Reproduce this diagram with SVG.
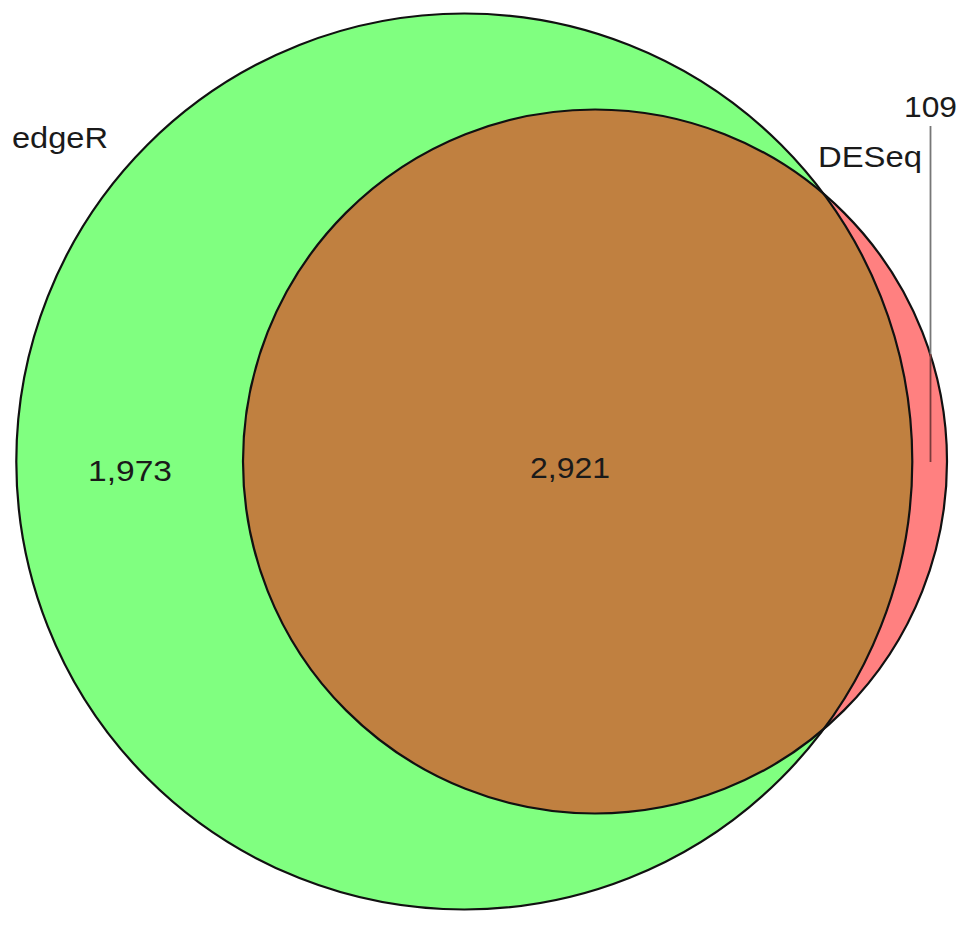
<svg xmlns="http://www.w3.org/2000/svg" width="969" height="925" viewBox="0 0 969 925">
<style>
.lbl{font-family:"Liberation Sans",Arial,Helvetica,sans-serif;font-size:30px;fill:#1a1a1a}
.edge{fill:none;stroke:#111;stroke-width:2.2}
</style>
<defs>
<clipPath id="clipGreen"><circle cx="464.3" cy="461.5" r="448"/></clipPath>
</defs>
<rect width="969" height="925" fill="#ffffff"/>
<g id="edgeR">
<circle cx="464.3" cy="461.5" r="448" fill="#80ff80"/>
</g>
<g id="DESeq">
<circle cx="595" cy="461.5" r="352" fill="#ff8080"/>
</g>
<g id="overlap">
<circle cx="595" cy="461.5" r="352" fill="#c08040" clip-path="url(#clipGreen)"/>
</g>
<g id="outlines">
<circle class="edge" cx="464.3" cy="461.5" r="448"/>
<circle class="edge" cx="595" cy="461.5" r="352"/>
</g>
<g id="connectors">
<line x1="930.5" y1="126" x2="930.5" y2="354" stroke="#777" stroke-width="1.8"/>
<line x1="930.5" y1="354" x2="930.5" y2="462" stroke="#7a3a3a" stroke-width="1.8"/>
</g>
<g id="labels">
<text class="lbl" x="12" y="148" textLength="96" lengthAdjust="spacingAndGlyphs">edgeR</text>
<text class="lbl" x="818" y="167" textLength="104" lengthAdjust="spacingAndGlyphs">DESeq</text>
<text class="lbl" x="904" y="117" textLength="53" lengthAdjust="spacingAndGlyphs">109</text>
<text class="lbl" x="88" y="481" textLength="84" lengthAdjust="spacingAndGlyphs">1,973</text>
<text class="lbl" x="530" y="478" textLength="80" lengthAdjust="spacingAndGlyphs">2,921</text>
</g>
</svg>
